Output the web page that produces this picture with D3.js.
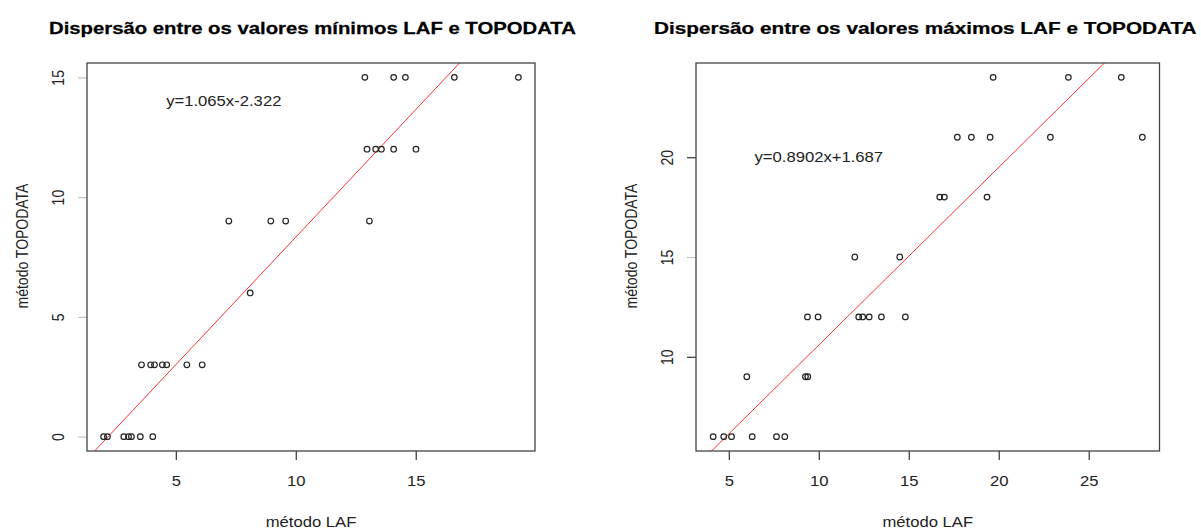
<!DOCTYPE html>
<html>
<head>
<meta charset="utf-8">
<script src="https://cdn.jsdelivr.net/npm/d3@7"></script>
<style>
  html, body { margin: 0; padding: 0; background: #ffffff; }
  text { font-family: "Liberation Sans", Arial, sans-serif; fill: #222; }
</style>
</head>
<body>
<script>
const width = 1201;
const height = 529;

// horizontal stretch of the original picture (text looks wider than tall)
const SX = 1.19;

// DATA - minimum values
const minLAF  = [12.88, 14.08, 14.57, 16.61, 19.28,
                 12.97, 13.33, 13.57, 14.08, 15.01,
                 7.21, 8.96, 9.58, 13.07,
                 8.10,
                 3.57, 3.95, 4.11, 4.44, 4.62, 5.46, 6.10,
                 1.99, 2.15, 2.83, 3.03, 3.15, 3.52, 4.04];
const minTOPO = [15, 15, 15, 15, 15,
                 12, 12, 12, 12, 12,
                 9, 9, 9, 9,
                 6,
                 3, 3, 3, 3, 3, 3, 3,
                 0, 0, 0, 0, 0, 0, 0];
const minFit = [1.065, -2.322];        // slope, intercept
const minXTicks = [5, 10, 15];
const minYTicks = [0, 5, 10, 15];

// DATA - maximum values
const maxLAF  = [19.69, 23.87, 26.81,
                 17.70, 18.48, 19.52, 22.87, 27.98,
                 16.72, 16.98, 19.35,
                 12.00, 14.50,
                 9.37, 9.96, 12.22, 12.44, 12.80, 13.48, 14.81,
                 6.00, 9.26, 9.39,
                 4.13, 4.72, 5.15, 6.30, 7.65, 8.11];
const maxTOPO = [24, 24, 24,
                 21, 21, 21, 21, 21,
                 18, 18, 18,
                 15, 15,
                 12, 12, 12, 12, 12, 12, 12,
                 9, 9, 9,
                 6, 6, 6, 6, 6, 6];
const maxFit = [0.8902, 1.687];
const maxXTicks = [5, 10, 15, 20, 25];
const maxYTicks = [10, 15, 20];

const panels = [
    { title: "Dispersão entre os valores mínimos LAF e TOPODATA",
      xs: minLAF, ys: minTOPO, fit: minFit, eq: "y=1.065x-2.322", eqAt: [7, 14],
      xTicks: minXTicks, yTicks: minYTicks, lightY: [0, 5, 10, 15],
      box: [87, 63, 535, 451], titleX: 49, titleSX: 1.21 },
    { title: "Dispersão entre os valores máximos LAF e TOPODATA",
      xs: maxLAF, ys: maxTOPO, fit: maxFit, eq: "y=0.8902x+1.687", eqAt: [10, 20],
      xTicks: maxXTicks, yTicks: maxYTicks, lightY: [15],
      box: [696, 63, 1159.5, 451], titleX: 654, titleSX: 1.235 }
];

const svg = d3.select("body").append("svg")
    .attr("width", width)
    .attr("height", height);

// R style range: data extent plus 4% each side
function rDomain(values) {
    const [lo, hi] = d3.extent(values);
    const pad = (hi - lo) * 0.04;
    return [lo - pad, hi + pad];
}

panels.forEach((p, i) => {
    const [x0, y0, x1, y1] = p.box;
    const x = d3.scaleLinear().domain(rDomain(p.xs)).range([x0, x1]);
    const y = d3.scaleLinear().domain(rDomain(p.ys)).range([y1, y0]);
    const g = svg.append("g").attr("class", "panel" + i);

    //Title
    g.append("text")
        .attr("transform", `translate(${p.titleX}, 34) scale(${p.titleSX},1)`)
        .style("font-size", "16.8px")
        .style("font-weight", "bold")
        .style("fill", "#000")
        .style("stroke", "#000")
        .style("stroke-width", 0.25)
        .text(p.title);

    //Clip for the regression line
    g.append("clipPath").attr("id", "clip" + i)
        .append("rect")
        .attr("x", x0).attr("y", y0)
        .attr("width", x1 - x0).attr("height", y1 - y0);

    //X axis
    const xAxis = g.append("g")
        .attr("transform", `translate(0, ${y1})`)
        .call(d3.axisBottom(x).tickValues(p.xTicks).tickSize(9).tickSizeOuter(0));
    xAxis.select(".domain").remove();
    xAxis.selectAll("line").attr("stroke", "#333").attr("stroke-width", 1.2);
    xAxis.selectAll("text")
        .attr("y", null).attr("dy", null)
        .attr("transform", `translate(0, 35) scale(${SX},1)`)
        .style("font-size", "14px")
        .style("font-family", "Liberation Sans, Arial, sans-serif")
        .style("fill", "#222");

    //Y axis, labels parallel to the axis
    const yAxis = g.append("g")
        .attr("transform", `translate(${x0}, 0)`)
        .call(d3.axisLeft(y).tickValues(p.yTicks).tickSize(9).tickSizeOuter(0));
    yAxis.select(".domain").remove();
    yAxis.selectAll("line")
        .attr("stroke", d => p.lightY.includes(d) ? "#c4c4c4" : "#333")
        .attr("stroke-width", 1.2);
    yAxis.selectAll("text")
        .attr("x", null).attr("dy", null)
        .attr("text-anchor", "middle")
        .attr("transform", `translate(-23, 0) scale(${SX},1) rotate(-90)`)
        .style("font-size", "14px")
        .style("font-family", "Liberation Sans, Arial, sans-serif")
        .style("fill", "#222");

    //Axis titles
    g.append("text")
        .attr("text-anchor", "middle")
        .attr("transform", `translate(${(x0 + x1) / 2}, 527) scale(${SX},1)`)
        .style("font-size", "14px")
        .text("método LAF");

    g.append("text")
        .attr("text-anchor", "middle")
        .attr("transform", `translate(${x0 - 59.5}, 246) scale(${SX},1) rotate(-90)`)
        .style("font-size", "14px")
        .text("método TOPODATA");

    //Regression line
    const [slope, intercept] = p.fit;
    const lineX = x.domain();
    g.append("path")
        .datum(lineX)
        .attr("clip-path", `url(#clip${i})`)
        .attr("fill", "none")
        .attr("stroke", "#ff3030")
        .attr("stroke-width", 1)
        .attr("d", d3.line().x(d => x(d)).y(d => y(slope * d + intercept)));

    //Points
    g.selectAll("circle.pt")
        .data(p.xs.map((v, k) => [v, p.ys[k]]))
        .join("circle")
        .attr("class", "pt")
        .attr("cx", d => x(d[0]))
        .attr("cy", d => y(d[1]))
        .attr("r", 2.8)
        .attr("fill", "none")
        .attr("stroke", "#222")
        .attr("stroke-width", 1.2);

    //Equation text
    g.append("text")
        .attr("text-anchor", "middle")
        .attr("transform", `translate(${x(p.eqAt[0])}, ${y(p.eqAt[1]) + 5}) scale(${SX},1)`)
        .style("font-size", "14px")
        .text(p.eq);

    //Box
    g.append("rect")
        .attr("x", x0).attr("y", y0)
        .attr("width", x1 - x0).attr("height", y1 - y0)
        .attr("fill", "none")
        .attr("stroke", "#444")
        .attr("stroke-width", 1.3);
});
</script>
</body>
</html>
